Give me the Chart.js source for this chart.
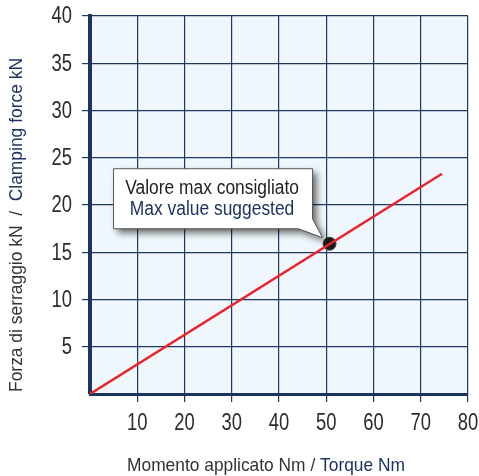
<!DOCTYPE html>
<html>
<head>
<meta charset="utf-8">
<script src="https://cdn.jsdelivr.net/npm/chart.js@4.4.1/dist/chart.umd.min.js"></script>
<style>
  body { margin: 0; background: #fff; }
  #wrap { width: 479px; height: 476px; }
</style>
</head>
<body>
<div id="wrap"><canvas id="myChart" width="479" height="476"></canvas></div>
<script>
// data
const torque = [0, 74.5];
const force = [0, 23.3];
const maxTorque = [50.7];
const maxForce = [15.9];
const xTickLabels = ['', '10', '20', '30', '40', '50', '60', '70', '80'];
const yTickLabels = ['', '5', '10', '15', '20', '25', '30', '35', '40'];

const navy = '#1d3461';
const gridCol = '#22375f';
const fam = '"Liberation Sans", Arial, sans-serif';

// text squeezed horizontally (the original uses a narrow face)
function narrowText(ctx, txt, x, y, sx, align) {
  ctx.save();
  ctx.translate(x, y);
  ctx.scale(sx, 1);
  ctx.textAlign = align;
  ctx.fillText(txt, 0, 0);
  ctx.restore();
}

// two-coloured title fitted to a given width
function twoTone(ctx, p1, p2, cx, y, width, size) {
  ctx.font = size + 'px ' + fam;
  const w1 = ctx.measureText(p1).width, w2 = ctx.measureText(p2).width;
  const sx = width / (w1 + w2);
  ctx.save();
  ctx.translate(cx - width / 2, y);
  ctx.scale(sx, 1);
  ctx.fillStyle = '#333';
  ctx.fillText(p1, 0, 0);
  ctx.fillStyle = navy;
  ctx.fillText(p2, w1, 0);
  ctx.restore();
}

const decor = {
  id: 'decor',
  beforeDraw(chart) {
    const { ctx, chartArea: a } = chart;
    ctx.save();
    ctx.fillStyle = '#eff7fc';
    ctx.fillRect(a.left, a.top, a.right - a.left, a.bottom - a.top);
    ctx.restore();
  },
  afterDraw(chart) {
    const ctx = chart.ctx;
    const xs = chart.scales.x, ys = chart.scales.y;

    // tick labels
    ctx.save();
    ctx.font = '23px ' + fam;
    ctx.fillStyle = '#2b2b2b';
    ctx.textBaseline = 'alphabetic';
    xs.ticks.forEach((t, i) => {
      narrowText(ctx, xTickLabels[i], xs.getPixelForTick(i), ys.bottom + 36, 0.8, 'center');
    });
    ctx.textBaseline = 'middle';
    ys.ticks.forEach((t, i) => {
      narrowText(ctx, yTickLabels[i], xs.left - 18, ys.getPixelForTick(i) + 1, 0.8, 'right');
    });
    ctx.restore();

    // x title
    ctx.save();
    ctx.textBaseline = 'alphabetic';
    twoTone(ctx, 'Momento applicato Nm / ', 'Torque Nm', 266, 471, 278, 19);
    ctx.restore();

    // y title
    ctx.save();
    ctx.translate(22, 225);
    ctx.rotate(-Math.PI / 2);
    ctx.textBaseline = 'alphabetic';
    twoTone(ctx, 'Forza di serraggio kN  /  ', 'Clamping force kN', 0, 0, 334, 19);
    ctx.restore();

    // callout
    const px = xs.getPixelForValue(maxTorque[0]);
    const py = ys.getPixelForValue(maxForce[0]);
    const left = px - 216, top = py - 75, w = 199, h = 60;
    const right = left + w, bottom = top + h;
    ctx.save();
    ctx.beginPath();
    ctx.moveTo(left, top);
    ctx.lineTo(right, top);
    ctx.lineTo(right, bottom - 10);
    ctx.lineTo(px - 7, py - 6);
    ctx.lineTo(right - 14, bottom);
    ctx.lineTo(left, bottom);
    ctx.closePath();
    ctx.shadowColor = 'rgba(0,0,0,0.6)';
    ctx.shadowBlur = 7;
    ctx.shadowOffsetX = 4;
    ctx.shadowOffsetY = 4;
    ctx.fillStyle = '#fff';
    ctx.fill();
    ctx.shadowColor = 'transparent';
    ctx.strokeStyle = '#555';
    ctx.lineWidth = 1;
    ctx.stroke();
    ctx.font = '20px ' + fam;
    ctx.fillStyle = '#222';
    narrowText(ctx, 'Valore max consigliato', left + w / 2 - 1, top + 25, 0.87, 'center');
    ctx.fillStyle = navy;
    narrowText(ctx, 'Max value suggested', left + w / 2 - 1, top + 46, 0.87, 'center');
    ctx.restore();
  }
};

const ctx = document.getElementById('myChart').getContext('2d');
new Chart(ctx, {
  type: 'scatter',
  data: {
    datasets: [
      {
        data: torque.map((t, i) => ({ x: t, y: force[i] })),
        showLine: true,
        borderColor: '#e8262a',
        borderWidth: 2.5,
        pointRadius: 0
      },
      {
        data: maxTorque.map((t, i) => ({ x: t, y: maxForce[i] })),
        pointRadius: 6.5,
        backgroundColor: '#1a1a1a',
        borderColor: '#444',
        borderWidth: 1
      }
    ]
  },
  options: {
    responsive: false,
    animation: false,
    devicePixelRatio: 1,
    layout: { padding: { top: 16, right: 11, left: 0, bottom: 0 } },
    scales: {
      x: {
        min: 0, max: 80,
        ticks: { stepSize: 10, display: false },
        grid: {
          color: gridCol,
          lineWidth: 1.2,
          tickLength: 8,
          tickColor: c => c.tick && c.tick.value === 0 ? 'transparent' : gridCol
        },
        border: { color: navy, width: 3 },
        afterFit: s => { s.height = 82; }
      },
      y: {
        min: 0, max: 40,
        ticks: { stepSize: 5, display: false },
        grid: {
          color: gridCol,
          lineWidth: 1.2,
          tickLength: 8,
          tickColor: c => c.tick && c.tick.value === 0 ? 'transparent' : gridCol
        },
        border: { color: navy, width: 4 },
        afterFit: s => { s.width = 90; }
      }
    },
    plugins: {
      legend: { display: false },
      tooltip: { enabled: false }
    }
  },
  plugins: [decor]
});
</script>
</body>
</html>
